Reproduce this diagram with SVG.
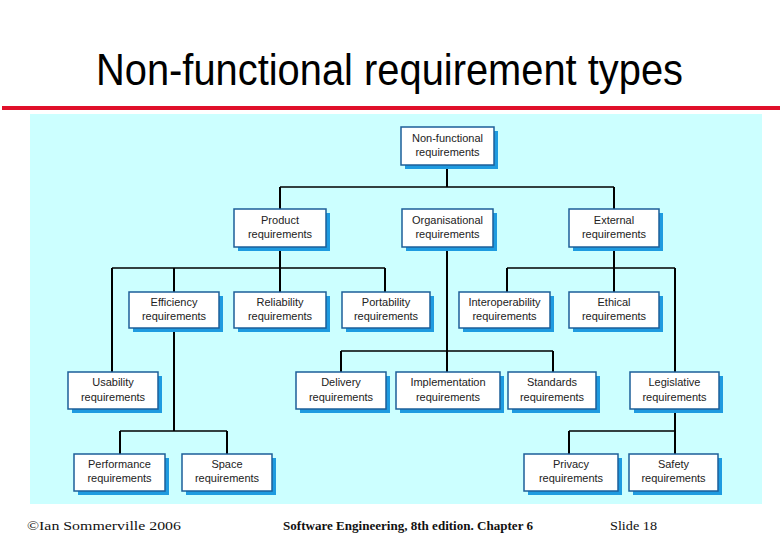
<svg xmlns="http://www.w3.org/2000/svg" width="780" height="540" viewBox="0 0 780 540">
<style>
.bg{fill:#ffffff}
.panel{fill:#ccffff}
.sh{fill:#1e9be0}
.box{fill:#ffffff;stroke:#1c5f99;stroke-width:1.5}
.lbl{font-family:"Liberation Sans",Arial,sans-serif;font-size:11px;fill:#222;text-anchor:middle}
.v{stroke:#000;stroke-width:2;fill:none}
.h{stroke:#000;stroke-width:1.3;fill:none}
.title{font-family:"Liberation Sans Narrow","Liberation Sans",Arial,sans-serif;font-size:44px;fill:#000}
.ft{font-family:"Liberation Serif","Times New Roman",serif;font-size:13px;fill:#111}
</style>
<rect class="bg" x="0" y="0" width="780" height="540"/>
<text class="title" x="96" y="85" textLength="587" lengthAdjust="spacingAndGlyphs">Non-functional requirement types</text>
<rect x="2" y="106" width="778" height="4" fill="#e0102a"/>
<rect class="panel" x="30" y="114" width="732" height="390"/>

<g id="connectors">
  <path class="v" d="M447 165V187"/>
  <path class="h" d="M280 187H614"/>
  <path class="v" d="M280 187V209 M614 187V209"/>
  <path class="v" d="M447 247V372"/>
  <path class="v" d="M280 247V292"/>
  <path class="h" d="M112 268H385"/>
  <path class="v" d="M112 268V372 M174 268V292 M385 268V292"/>
  <path class="v" d="M174 328V431"/>
  <path class="h" d="M120 431H227"/>
  <path class="v" d="M120 431V454 M227 431V454"/>
  <path class="h" d="M341 351H553"/>
  <path class="v" d="M341 351V372 M553 351V372"/>
  <path class="v" d="M614 247V292"/>
  <path class="h" d="M507 268H675"/>
  <path class="v" d="M507 268V292 M675 268V372"/>
  <path class="v" d="M675 409V454"/>
  <path class="h" d="M569 431H675"/>
  <path class="v" d="M569 431V454"/>
</g>

<g id="nonfunctional">
  <rect class="sh" x="405" y="131" width="93" height="38"/>
  <rect class="box" x="401" y="127" width="93" height="38"/>
  <text class="lbl" x="447.5" y="142">Non-functional</text>
  <text class="lbl" x="447.5" y="156">requirements</text>
</g>
<g id="product">
  <rect class="sh" x="238" y="213" width="92" height="38"/>
  <rect class="box" x="234" y="209" width="92" height="38"/>
  <text class="lbl" x="280" y="224">Product</text>
  <text class="lbl" x="280" y="238">requirements</text>
</g>
<g id="organisational">
  <rect class="sh" x="406" y="213" width="91" height="38"/>
  <rect class="box" x="402" y="209" width="91" height="38"/>
  <text class="lbl" x="447.5" y="224">Organisational</text>
  <text class="lbl" x="447.5" y="238">requirements</text>
</g>
<g id="external">
  <rect class="sh" x="573" y="213" width="90" height="38"/>
  <rect class="box" x="569" y="209" width="90" height="38"/>
  <text class="lbl" x="614" y="224">External</text>
  <text class="lbl" x="614" y="238">requirements</text>
</g>
<g id="efficiency">
  <rect class="sh" x="133" y="296" width="90" height="36"/>
  <rect class="box" x="129" y="292" width="90" height="36"/>
  <text class="lbl" x="174" y="306">Efficiency</text>
  <text class="lbl" x="174" y="320">requirements</text>
</g>
<g id="reliability">
  <rect class="sh" x="238" y="296" width="92" height="36"/>
  <rect class="box" x="234" y="292" width="92" height="36"/>
  <text class="lbl" x="280" y="306">Reliability</text>
  <text class="lbl" x="280" y="320">requirements</text>
</g>
<g id="portability">
  <rect class="sh" x="346" y="296" width="88" height="36"/>
  <rect class="box" x="342" y="292" width="88" height="36"/>
  <text class="lbl" x="386" y="306">Portability</text>
  <text class="lbl" x="386" y="320">requirements</text>
</g>
<g id="interoperability">
  <rect class="sh" x="463" y="296" width="91" height="36"/>
  <rect class="box" x="459" y="292" width="91" height="36"/>
  <text class="lbl" x="504.5" y="306">Interoperability</text>
  <text class="lbl" x="504.5" y="320">requirements</text>
</g>
<g id="ethical">
  <rect class="sh" x="573" y="296" width="90" height="36"/>
  <rect class="box" x="569" y="292" width="90" height="36"/>
  <text class="lbl" x="614" y="306">Ethical</text>
  <text class="lbl" x="614" y="320">requirements</text>
</g>
<g id="usability">
  <rect class="sh" x="72" y="376" width="90" height="37"/>
  <rect class="box" x="68" y="372" width="90" height="37"/>
  <text class="lbl" x="113" y="386">Usability</text>
  <text class="lbl" x="113" y="401">requirements</text>
</g>
<g id="delivery">
  <rect class="sh" x="300" y="376" width="90" height="37"/>
  <rect class="box" x="296" y="372" width="90" height="37"/>
  <text class="lbl" x="341" y="386">Delivery</text>
  <text class="lbl" x="341" y="401">requirements</text>
</g>
<g id="implementation">
  <rect class="sh" x="400" y="376" width="104" height="37"/>
  <rect class="box" x="396" y="372" width="104" height="37"/>
  <text class="lbl" x="448" y="386">Implementation</text>
  <text class="lbl" x="448" y="401">requirements</text>
</g>
<g id="standards">
  <rect class="sh" x="512" y="376" width="88" height="37"/>
  <rect class="box" x="508" y="372" width="88" height="37"/>
  <text class="lbl" x="552" y="386">Standards</text>
  <text class="lbl" x="552" y="401">requirements</text>
</g>
<g id="legislative">
  <rect class="sh" x="634" y="376" width="89" height="37"/>
  <rect class="box" x="630" y="372" width="89" height="37"/>
  <text class="lbl" x="674.5" y="386">Legislative</text>
  <text class="lbl" x="674.5" y="401">requirements</text>
</g>
<g id="performance">
  <rect class="sh" x="78" y="458" width="91" height="37"/>
  <rect class="box" x="74" y="454" width="91" height="37"/>
  <text class="lbl" x="119.5" y="468">Performance</text>
  <text class="lbl" x="119.5" y="482">requirements</text>
</g>
<g id="space">
  <rect class="sh" x="186" y="458" width="90" height="37"/>
  <rect class="box" x="182" y="454" width="90" height="37"/>
  <text class="lbl" x="227" y="468">Space</text>
  <text class="lbl" x="227" y="482">requirements</text>
</g>
<g id="privacy">
  <rect class="sh" x="528" y="458" width="94" height="37"/>
  <rect class="box" x="524" y="454" width="94" height="37"/>
  <text class="lbl" x="571" y="468">Privacy</text>
  <text class="lbl" x="571" y="482">requirements</text>
</g>
<g id="safety">
  <rect class="sh" x="633" y="458" width="89" height="37"/>
  <rect class="box" x="629" y="454" width="89" height="37"/>
  <text class="lbl" x="673.5" y="468">Safety</text>
  <text class="lbl" x="673.5" y="482">requirements</text>
</g>

<text class="ft" x="27" y="530" textLength="154" lengthAdjust="spacingAndGlyphs">©Ian Sommerville 2006</text>
<text class="ft" x="283" y="530" font-weight="bold" textLength="250" lengthAdjust="spacingAndGlyphs">Software Engineering, 8th edition. Chapter 6</text>
<text class="ft" x="610" y="530" textLength="47" lengthAdjust="spacingAndGlyphs">Slide 18</text>
</svg>
